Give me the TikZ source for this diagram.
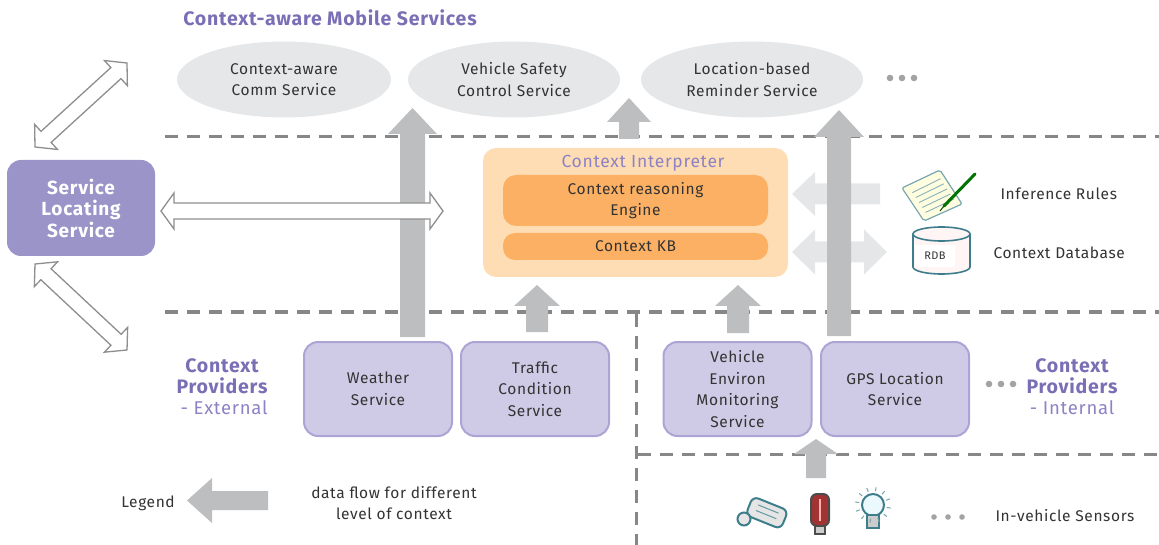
\documentclass[tikz,border=0pt]{standalone}
\usepackage{fontspec}
\setmainfont{Fira Sans}[LetterSpace=4]
\usetikzlibrary{calc,shapes.geometric}

\definecolor{txt}{HTML}{333333}
\definecolor{purp}{HTML}{7A6FB5}
\definecolor{purplt}{HTML}{8C82C4}
\definecolor{slsfill}{HTML}{9B94C8}
\definecolor{provfill}{HTML}{CFCBE6}
\definecolor{provline}{HTML}{ABA5D5}
\definecolor{cifill}{HTML}{FEDDB4}
\definecolor{engfill}{HTML}{FBB063}
\definecolor{ellfill}{HTML}{E6E7E8}
\definecolor{flowgray}{HTML}{BCBEC0}
\definecolor{lightflow}{HTML}{E5E6E7}
\definecolor{dashgray}{HTML}{878787}
\definecolor{outgray}{HTML}{8E8E8E}
\definecolor{dotgray}{HTML}{A3A3A3}
\definecolor{iconteal}{HTML}{3E7E8C}

% single-headed block arrow: [style]{from}{to}{shaft half}{head half}{head length}
\newcommand\flowarrow[6][fill=flowgray]{%
  \path[#1] ($(#2)!#4!90:(#3)$)
    -- ($(#3)!#6!(#2)!#4!-90:(#2)$)
    -- ($(#3)!#6!(#2)!#5!-90:(#2)$)
    -- (#3)
    -- ($(#3)!#6!(#2)!#5!90:(#2)$)
    -- ($(#3)!#6!(#2)!#4!90:(#2)$)
    -- ($(#2)!#4!-90:(#3)$) -- cycle;}

% double-headed block arrow: [style]{end a}{end b}{shaft half}{head half}{head length}
\newcommand\dflowarrow[6][fill=lightflow]{%
  \path[#1] (#2)
    -- ($(#2)!#6!(#3)!#5!90:(#3)$)
    -- ($(#2)!#6!(#3)!#4!90:(#3)$)
    -- ($(#3)!#6!(#2)!#4!-90:(#2)$)
    -- ($(#3)!#6!(#2)!#5!-90:(#2)$)
    -- (#3)
    -- ($(#3)!#6!(#2)!#5!90:(#2)$)
    -- ($(#3)!#6!(#2)!#4!90:(#2)$)
    -- ($(#2)!#6!(#3)!#4!-90:(#3)$)
    -- ($(#2)!#6!(#3)!#5!-90:(#3)$) -- cycle;}

\tikzset{
  body/.style={font=\fontsize{15.5}{21.6}\selectfont, text=txt, align=center},
  mobile/.style={ellipse, fill=ellfill, inner sep=0pt, minimum height=76pt, body},
  provider/.style={draw=provline, line width=2pt, fill=provfill, rounded corners=14pt,
    minimum width=148pt, minimum height=94pt, inner sep=0pt, body},
  layerline/.style={draw=dashgray, line width=3pt, dash pattern=on 13pt off 9pt},
  hollow/.style={draw=outgray, line width=1.3pt, fill=white, line join=miter},
  grouplabel/.style={font=\fontsize{19.5}{21}\selectfont\bfseries, text=purp, align=center},
  subgroup/.style={font=\fontsize{18.5}{21}\selectfont, text=purplt},
  dotmark/.style={fill=dotgray, draw=none},
}

\begin{document}
\begin{tikzpicture}[x=1pt, y=-1pt]
\useasboundingbox (0,0) rectangle (1159,545);

% ---------------- layer separators ----------------
\draw[layerline] (165,137) -- (1159,137);
\draw[layerline] (165,312) -- (1159,312);
\draw[layerline] (636,314) -- (636,545);
\draw[layerline] (638,454) -- (1159,454);

% ---------------- mobile services ----------------
\node[font=\fontsize{19.5}{21}\selectfont\bfseries, text=purp] (title) at (330,18) {Context-aware Mobile Services};
\node[mobile, minimum width=214pt] (comm) at (284,79.5) {Context-aware\\Comm Service};
\node[mobile, minimum width=212pt] (safety) at (514,79.5) {Vehicle Safety\\Control Service};
\node[mobile, minimum width=222pt] (remind) at (752,79.5) {Location-based\\Reminder Service};
\foreach \x in {890,902,914} \fill[dotmark] (\x,78) circle (3.3pt);

% ---------------- service locating ----------------
\node[fill=slsfill, rounded corners=14pt, minimum width=148pt, minimum height=96pt, inner sep=0pt,
      text=white, font=\fontsize{19}{21.5}\selectfont\bfseries, align=center] (sls) at (81,208)
      {Service\\Locating\\Service};

% ---------------- context interpreter ----------------
\node[fill=cifill, rounded corners=13pt, minimum width=305pt, minimum height=129pt, inner sep=0pt] (ci) at (635.5,212.5) {};
\node[font=\fontsize{17.5}{20}\selectfont, text=purplt] (cititle) at (643,163) {Context Interpreter};
\node[fill=engfill, rounded corners=13pt, minimum width=265pt, minimum height=51pt, inner sep=0pt, body] (engine) at (635.5,200.5) {Context reasoning\\Engine};
\node[fill=engfill, rounded corners=12pt, minimum width=265pt, minimum height=27pt, inner sep=0pt, body] (kb) at (635.5,246.5) {Context KB};

% ---------------- knowledge sources ----------------
\coordinate (ruleend) at (880,194);
\coordinate (ruletip) at (792,194);
\coordinate (dbl) at (792,252);
\coordinate (dbr) at (887,252);
\flowarrow[fill=lightflow]{ruleend}{ruletip}{10.5pt}{22pt}{23pt}
\dflowarrow[fill=lightflow]{dbl}{dbr}{10.5pt}{22.5pt}{23pt}

% inference rules icon: ruled sheet with a pen
\begin{scope}
  \path[fill=yellow!12!white, draw=iconteal!70, line width=1.2pt, rounded corners=2pt]
    (902,188) -- (940,170) -- (962,204) -- (924,221) -- cycle;
  \foreach \t in {0.2,0.35,0.5,0.65,0.8}
    \draw[iconteal!60, line width=0.9pt] ($(902,188)!\t!(924,221)+(6,-2)$) -- ($(940,170)!\t!(962,204)+(-4,2)$);
  \draw[green!45!black, line width=3pt, line cap=round] (944,206) -- (975,174);
  \draw[green!30!black, line width=1pt] (940,211) -- (944,206);
\end{scope}
\node[body, anchor=west] (rules) at (997,194) {Inference Rules};

% context database icon
\begin{scope}
  \path[fill=red!4!white, draw=iconteal, line width=1.6pt]
    (913,234) -- (913,267) arc[start angle=180, end angle=360, x radius=28.5pt, y radius=7pt]
    -- (970,234);
  \draw[fill=red!4!white, draw=iconteal, line width=1.6pt] (941.5,234) ellipse[x radius=28.5pt, y radius=7pt];
  \node[fill=white, minimum width=40pt, minimum height=22pt, inner sep=0pt,
        font=\fontsize{11}{12}\selectfont, text=txt] (rdb) at (935,256) {RDB};
\end{scope}
\node[body, anchor=west] (cdb) at (990,253) {Context Database};

% ---------------- context providers ----------------
\node[provider] (weather) at (378,389) {Weather\\Service};
\node[provider] (traffic) at (535,389) {Traffic\\Condition\\Service};
\node[provider] (vem) at (737.5,389) {Vehicle\\Environ\\Monitoring\\Service};
\node[provider] (gps) at (895,389) {GPS Location\\Service};

\node[grouplabel] (extlabel) at (222,376) {Context\\Providers};
\node[subgroup] (ext) at (224,408) {- External};
\node[grouplabel] (intlabel) at (1072,376) {Context\\Providers};
\node[subgroup] (int) at (1072,408) {- Internal};
\foreach \x in {989,1001,1013} \fill[dotmark] (\x,384) circle (3.3pt);

% ---------------- data flows ----------------
\coordinate (wA) at (412.5,337);  \coordinate (wB) at (412.5,108);
\coordinate (cA) at (629,139);    \coordinate (cB) at (629,98);
\coordinate (gA) at (839,336);    \coordinate (gB) at (839,110);
\coordinate (tA) at (537,332);    \coordinate (tB) at (537,285);
\coordinate (vA) at (738,333);    \coordinate (vB) at (738,285);
\coordinate (sA) at (816,478);    \coordinate (sB) at (816,439);
\flowarrow{wA}{wB}{12.5pt}{24.5pt}{26pt}
\flowarrow{cA}{cB}{10pt}{22pt}{24pt}
\flowarrow{gA}{gB}{12pt}{25pt}{27pt}
\flowarrow{tA}{tB}{11pt}{23pt}{21pt}
\flowarrow{vA}{vB}{11pt}{23pt}{21pt}
\flowarrow{sA}{sB}{10pt}{22pt}{15pt}

% ---------------- service locating links ----------------
\coordinate (h1) at (161,211);  \coordinate (h2) at (443,211);
\coordinate (u1) at (35,147);   \coordinate (u2) at (127,63);
\coordinate (d1) at (35,264);   \coordinate (d2) at (127,350);
\dflowarrow[hollow]{h1}{h2}{8pt}{18pt}{13pt}
\dflowarrow[hollow]{u1}{u2}{7.5pt}{17pt}{15pt}
\dflowarrow[hollow]{d1}{d2}{7.5pt}{17pt}{15pt}

% ---------------- in-vehicle sensors ----------------
\begin{scope}[line width=2pt, draw=iconteal]
  % camera-like sensor
  \draw[iconteal, fill=gray!20, rotate around={-22:(765,512)}, rounded corners=6pt]
    (748,502) rectangle (786,522);
  \draw[iconteal, fill=gray!20] (744,519) circle (6.5pt);
  \draw[iconteal!80, line width=1pt, rotate around={-22:(765,512)}] (756,508) -- (778,508) (756,514) -- (778,514);
  % temperature probe
  \draw[black!70, fill=red!55!black!80, rounded corners=6pt] (811,494) rectangle (829,526);
  \draw[black!70, fill=gray!40] (815,526) rectangle (825,534);
  \draw[red!30, line width=1.5pt] (820,499) -- (820,521);
  % light sensor
  \draw[iconteal, fill=cyan!8] (873,505) circle (11pt);
  \draw[iconteal, fill=gray!40] (867,515) rectangle (879,528);
  \foreach \a in {100,130,...,260,-80,-50,-20,10,40,70}
    \draw[iconteal!70, line width=1pt] ($(873,505)+(\a:14)$) -- ($(873,505)+(\a:18)$);
\end{scope}
\foreach \x in {934,948,962} \fill[dotmark] (\x,517) circle (2.8pt);
\node[body, anchor=west] (sensors) at (992,516) {In-vehicle Sensors};

% ---------------- legend ----------------
\node[body] (legend) at (148,503) {Legend};
\coordinate (lA) at (268,500.5); \coordinate (lB) at (187,500.5);
\flowarrow{lA}{lB}{9.5pt}{22.5pt}{25pt}
\node[body] (legendtext) at (394,503) {data flow for different\\level of context};

\end{tikzpicture}
\end{document}
